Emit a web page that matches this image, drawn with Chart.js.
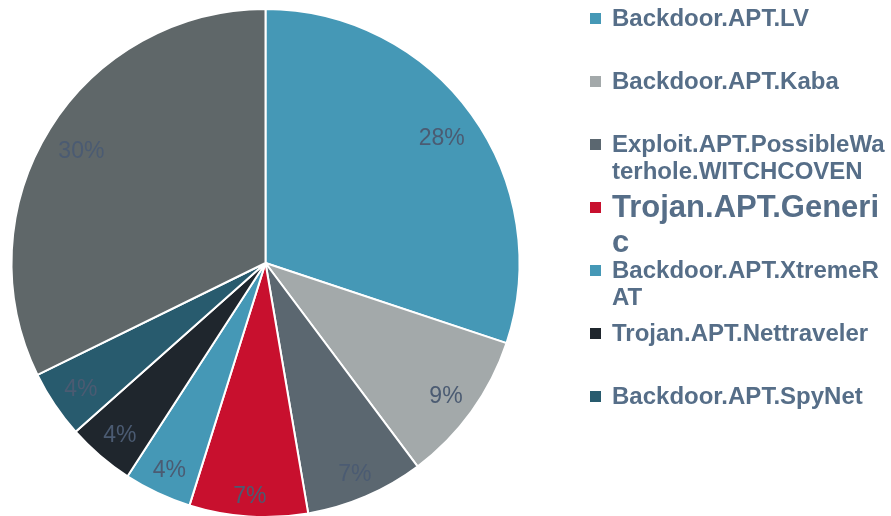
<!DOCTYPE html>
<html>
<head>
<meta charset="utf-8">
<script src="https://cdn.jsdelivr.net/npm/chart.js@4/dist/chart.umd.min.js"></script>
<style>
  html, body { margin: 0; padding: 0; background: #ffffff; }
  body { width: 891px; height: 516px; overflow: hidden; position: relative; font-family: "Liberation Sans", Arial, sans-serif; }
  #pieBox { position: absolute; left: 0; top: 0; width: 531px; height: 526px; }
  #legend { position: absolute; left: 0; top: 0; width: 891px; height: 516px; pointer-events: none; }
  .swatch { position: absolute; left: 590px; width: 11px; height: 11px; }
  .entry { position: absolute; left: 612px; width: 280px; font-weight: bold; line-height: 1.12;
           color: #566e88; word-break: break-all; white-space: normal; }
</style>
</head>
<body>
<div id="pieBox"><canvas id="pie"></canvas></div>
<div id="legend"></div>
<script>
// Malware families and their share of detections (percent)
const categories = [
  'Backdoor.APT.LV',
  'Backdoor.APT.Kaba',
  'Exploit.APT.PossibleWaterhole.WITCHCOVEN',
  'Trojan.APT.Generic',
  'Backdoor.APT.XtremeRAT',
  'Trojan.APT.Nettraveler',
  'Backdoor.APT.SpyNet',
  'Other'
];
const shares = [28, 9, 7, 7, 4, 4, 4, 30];
const sliceColors = ['#4598b6', '#a3a9aa', '#5b6770', '#c8102e', '#4598b6', '#1f262d', '#285b6e', '#5f6769'];

const labelFont = '23px "Liberation Sans", Arial, sans-serif';
const labelColor = '#4b5b72';

// Percentage labels placed just inside the outer edge of each slice
const sliceLabels = {
  id: 'sliceLabels',
  afterDatasetsDraw(chart) {
    const ctx = chart.ctx;
    const meta = chart.getDatasetMeta(0);
    ctx.save();
    ctx.font = labelFont;
    ctx.fillStyle = labelColor;
    ctx.textAlign = 'center';
    ctx.textBaseline = 'middle';
    meta.data.forEach((arc, i) => {
      const p = arc.getProps(['x', 'y', 'startAngle', 'endAngle', 'outerRadius'], true);
      const mid = (p.startAngle + p.endAngle) / 2;
      const text = shares[i] + '%';
      const halfW = ctx.measureText(text).width / 2;
      const halfH = 8.5;
      const c = Math.cos(mid), s = Math.sin(mid);
      const extent = Math.abs(c) * halfW + Math.abs(s) * halfH;
      const r = p.outerRadius - 13 - extent;
      ctx.fillText(text, p.x + c * r, p.y + s * r + 3);
    });
    ctx.restore();
  }
};

new Chart(document.getElementById('pie'), {
  type: 'pie',
  data: {
    labels: categories,
    datasets: [{
      data: shares,
      backgroundColor: sliceColors,
      borderColor: '#ffffff',
      borderWidth: 2
    }]
  },
  options: {
    responsive: true,
    maintainAspectRatio: false,
    animation: false,
    layout: { padding: { top: 8, bottom: 8, left: 10, right: 10 } },
    plugins: {
      legend: { display: false },
      tooltip: { enabled: false }
    }
  },
  plugins: [sliceLabels]
});

// Legend for the named families, one row per entry
const legend = document.getElementById('legend');
const rowStep = 63;
categories.forEach((name, i) => {
  if (name === 'Other') return;
  const size = name === 'Trojan.APT.Generic' ? 31 : 24;
  const capCenter = 18 + rowStep * i;
  const sw = document.createElement('div');
  sw.className = 'swatch';
  sw.style.top = (capCenter - 5) + 'px';
  sw.style.background = sliceColors[i];
  legend.appendChild(sw);
  const t = document.createElement('div');
  t.className = 'entry';
  t.style.fontSize = size + 'px';
  t.style.top = (capCenter - 0.549 * size) + 'px';
  t.textContent = name;
  legend.appendChild(t);
});
</script>
</body>
</html>
